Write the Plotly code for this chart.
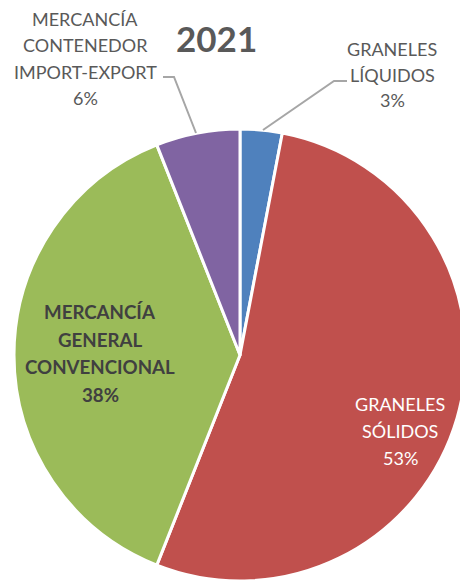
import plotly.graph_objects as go

categories = ["GRANELES<br>LÍQUIDOS", "GRANELES<br>SÓLIDOS", "MERCANCÍA<br>GENERAL<br>CONVENCIONAL", "MERCANCÍA<br>CONTENEDOR<br>IMPORT-EXPORT"]
values = [3, 53, 38, 6]
colors = ["#4F81BD", "#C0504D", "#9BBB59", "#8064A2"]
title = "2021"

# figure slightly larger than the window; the page clips the overflow
W, H = 472, 590

def px(x): return x / W
def py(y): return 1 - y / H

cx, cy, r = 240, 355, 226
fig = go.Figure(go.Pie(
    labels=categories, values=values, sort=False, direction="clockwise", rotation=0,
    marker=dict(colors=colors, line=dict(color="white", width=3)),
    textinfo="none", hoverinfo="label+percent", showlegend=False,
    domain=dict(x=[px(cx - r), px(cx + r)], y=[py(cy + r), py(cy - r)]),
))

total = sum(values)
pct = [f"{round(v * 100 / total)}%" for v in values]
font = "Lato"
label_specs = [
    # (index, x, first line y, spacing, color, bold, size)
    (0, 392, 49, 25.5, "#595959", False, 18),
    (1, 400, 404, 27, "#FFFFFF", False, 18),
    (2, 100, 312, 27.7, "#404040", True, 18.7),
    (3, 85, 19, 26.3, "#595959", False, 18),
]
anns = []
for i, x, y0, dy, c, b, s in label_specs:
    lines = categories[i].split("<br>") + [pct[i]]
    for k, ln in enumerate(lines):
        txt = f"<b>{ln}</b>" if b else ln
        anns.append(dict(x=px(x), y=py(y0 + k * dy), xref="paper", yref="paper", text=txt,
                         showarrow=False, font=dict(family=font, size=s, color=c),
                         xanchor="center", yanchor="middle"))
anns.append(dict(x=px(216), y=py(38), xref="paper", yref="paper", text="<b>" + title + "</b>",
                 showarrow=False, font=dict(family=font, size=35, color="#595959"),
                 xanchor="center", yanchor="middle"))

line_style = dict(color="#A6A6A6", width=2)
shapes = [
    dict(type="path", xref="paper", yref="paper",
         path=f"M {px(163)} {py(77)} L {px(174)} {py(77)} L {px(196)} {py(133)}", line=line_style),
    dict(type="path", xref="paper", yref="paper",
         path=f"M {px(347)} {py(81)} L {px(334)} {py(81)} L {px(263)} {py(130)}", line=line_style),
]

fig.update_layout(width=W, height=H, margin=dict(l=0, r=0, t=0, b=0),
                  paper_bgcolor="white", plot_bgcolor="white",
                  annotations=anns, shapes=shapes)
fig.write_html(
    "out.html",
    config={"displayModeBar": False},
    post_script="document.body.style.margin='0';document.body.style.overflow='hidden';"
                "document.documentElement.style.overflow='hidden';",
)
